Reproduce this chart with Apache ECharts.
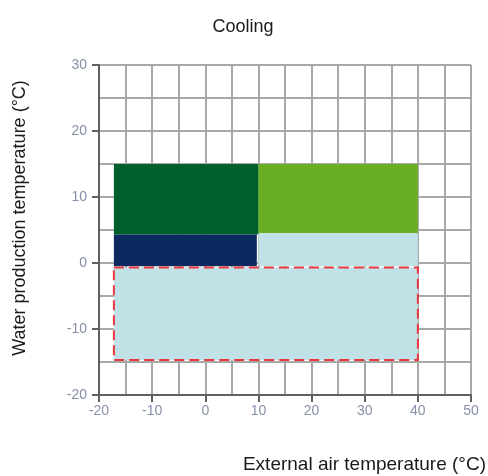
<!DOCTYPE html>
<html>
<head>
<meta charset="utf-8">
<script src="https://cdn.jsdelivr.net/npm/echarts@6/dist/echarts.min.js"></script>
<style>html,body{margin:0;padding:0;background:#fff;}#chart{width:488px;height:476px;}</style>
</head>
<body>
<div id="chart"></div>
<script>
// Operating envelope regions (x = external air temp, y = water production temp)
const regionNames = ['Dark green', 'Light green', 'Navy', 'Light blue upper', 'Light blue lower'];
const xStart = [-17.2, 10, -17.2, 10, -17.2];
const xEnd   = [10, 40, 9.7, 40, 40];
const yStart = [4.3, 4.5, -0.5, -0.5, -14.7];
const yEnd   = [15, 15, 4.3, 4.5, -0.7];
// Dashed outline region
const dashXStart = [-17.2];
const dashXEnd = [40];
const dashYStart = [-14.7];
const dashYEnd = [-0.7];

const xTicks = [-20, -10, 0, 10, 20, 30, 40, 50];
const yTicks = [-20, -10, 0, 10, 20, 30];

const fillColors = ['#00602c', '#6aae24', '#0c2a60', '#c0e2e7', '#c0e2e7'];

const rectData = regionNames.map((n, i) => [xStart[i], xEnd[i], yStart[i], yEnd[i], i]);
const dashData = dashXStart.map((v, i) => [v, dashXEnd[i], dashYStart[i], dashYEnd[i]]);

function rectFromApi(api) {
  const p0 = api.coord([api.value(0), api.value(3)]);
  const p1 = api.coord([api.value(1), api.value(2)]);
  return { x: p0[0], y: p0[1], width: p1[0] - p0[0], height: p1[1] - p0[1] };
}

const FONT = 'Liberation Sans, Arial, sans-serif';
const axisCommon = {
  type: 'value',
  axisLine: { show: true, onZero: false, lineStyle: { color: '#606060', width: 2 } },
  axisTick: { show: true, length: 7, lineStyle: { color: '#606060', width: 2 } },
  splitLine: { show: true, lineStyle: { color: '#a8a8a8', width: 2 } },
  minorTick: { show: false, splitNumber: 2 },
  minorSplitLine: { show: true, lineStyle: { color: '#a8a8a8', width: 2 } },
  axisLabel: { color: '#8890a8', fontSize: 14, fontFamily: FONT }
};

const chart = echarts.init(document.getElementById('chart'), null, { renderer: 'canvas' });
chart.setOption({
  animation: false,
  backgroundColor: '#ffffff',
  title: {
    text: 'Cooling',
    left: 238, top: 13, textAlign: 'center',
    textStyle: { fontSize: 18, fontWeight: 'normal', color: '#1a1a1a', fontFamily: FONT }
  },
  grid: { left: 99, right: 17, top: 65, bottom: 81 },
  xAxis: Object.assign({}, axisCommon, {
    min: xTicks[0], max: xTicks[xTicks.length - 1], interval: 10,
    axisLabel: Object.assign({}, axisCommon.axisLabel, { margin: 9 })
  }),
  yAxis: Object.assign({}, axisCommon, {
    min: yTicks[0], max: yTicks[yTicks.length - 1], interval: 10,
    axisLabel: Object.assign({}, axisCommon.axisLabel, { margin: 12 })
  }),
  graphic: [
    {
      type: 'text', right: 2, top: 455,
      style: { text: 'External air temperature (°C)', fontSize: 19, fill: '#1a1a1a', fontFamily: FONT }
    },
    {
      type: 'text', x: 20, y: 218, rotation: Math.PI / 2,
      style: { text: 'Water production temperature (°C)', fontSize: 18, fill: '#1a1a1a', align: 'center', verticalAlign: 'middle', fontFamily: FONT }
    }
  ],
  series: [
    {
      type: 'custom',
      data: rectData,
      encode: { x: [0, 1], y: [2, 3] },
      renderItem: function (params, api) {
        return { type: 'rect', shape: rectFromApi(api), style: { fill: fillColors[api.value(4)] } };
      },
      z: 2
    },
    {
      type: 'custom',
      data: dashData,
      encode: { x: [0, 1], y: [2, 3] },
      renderItem: function (params, api) {
        return { type: 'rect', shape: rectFromApi(api), style: { fill: 'none', stroke: '#e8383d', lineWidth: 2, lineDash: [10, 5] } };
      },
      z: 3
    }
  ]
});
</script>
</body>
</html>
